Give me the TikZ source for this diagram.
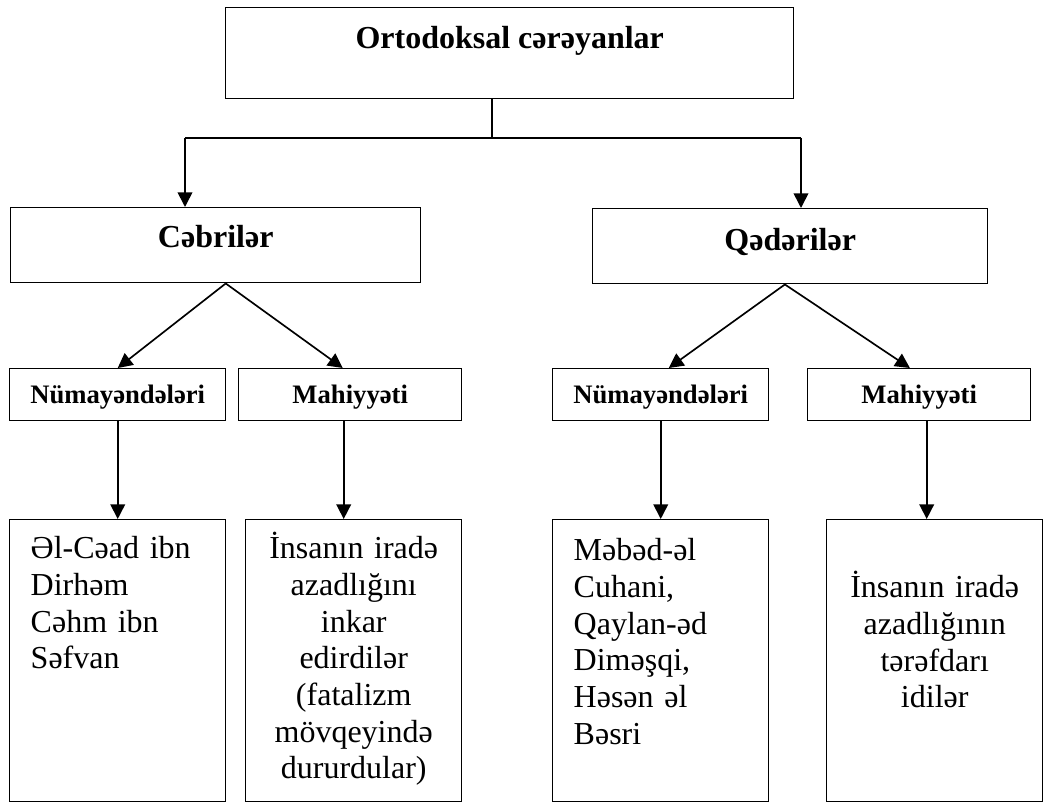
\documentclass[tikz,border=0pt]{standalone}
\usepackage{fontspec}
\setmainfont{Liberation Serif}
\usetikzlibrary{arrows.meta}

\begin{document}
\begin{tikzpicture}[
    x=0.75pt, y=-0.75pt,
    >={Triangle[length=11pt, width=11pt]},
    box/.style={draw, line width=1.1pt, rectangle, inner sep=0pt, anchor=north west},
    headbox/.style={box, font=\fontsize{24}{28}\selectfont\bfseries},
    subbox/.style={box, font=\fontsize{20}{24}\selectfont\bfseries,
        text height=26.25pt, text depth=12.75pt},
    textbox/.style={box, font=\fontsize{24}{27.5}\selectfont,
        inner xsep=15.75pt, text width=130.5pt},
    midbox/.style={textbox, inner xsep=6pt, text width=150pt, align=center},
    link/.style={->, line width=1.25pt},
]
\useasboundingbox (0,0) rectangle (1043,802);
% top level
\node[headbox, minimum width=426pt, text height=30.75pt, text depth=37.5pt]
      (top) at (225,7) {Ortodoksal cərəyanlar};
% the two currents
\node[headbox, minimum width=307.5pt, text height=30pt, text depth=26.25pt]
      (cb) at (10,207) {Cəbrilər};
\node[headbox, minimum width=296.25pt, text height=31.5pt, text depth=24.75pt]
      (qd) at (592,208) {Qədərilər};
% sub headings
\node[subbox, minimum width=162pt]    (n1) at (9,368)   {Nümayəndələri};
\node[subbox, minimum width=167.25pt] (m1) at (238,368) {Mahiyyəti};
\node[subbox, minimum width=162pt]    (n2) at (552,368) {Nümayəndələri};
\node[subbox, minimum width=167.25pt] (m2) at (807,368) {Mahiyyəti};
% contents
\node[textbox, align=left, text height=29.25pt, text depth=182.25pt]
      (a1) at (9,519) {Əl-Cəad ibn\\ Dirhəm\\ Cəhm ibn\\ Səfvan};
\node[midbox, text height=29.25pt, text depth=182.25pt]
      (a2) at (245,519) {İnsanın iradə\\ azadlığını\\ inkar\\ edirdilər\\ (fatalizm\\ mövqeyində\\ dururdular)};
\node[textbox, align=left, text height=30.75pt, text depth=180.75pt]
      (a3) at (552,519) {Məbəd-əl\\ Cuhani,\\ Qaylan-əd\\ Diməşqi,\\ Həsən əl\\ Bəsri};
\node[midbox, text height=58.5pt, text depth=153pt]
      (a4) at (826,519) {İnsanın iradə\\ azadlığının\\ tərəfdarı\\ idilər};
% split from the top box
\coordinate (split) at (492,138);
\coordinate (jl) at (185,138);
\coordinate (jr) at (801,138);
\draw[line width=0.8pt] (top.south -| split) -- (split);
\draw[line width=1pt] (jl) -- (jr);
\draw[link] (jl) -- (jl |- cb.north);
\draw[link] (jr) -- (jr |- qd.north);
% fan out
\draw[link] ([xshift=7.5pt]cb.south) -- (n1.north);
\draw[link] ([xshift=7.5pt]cb.south) -- ([xshift=-5.6pt]m1.north);
\draw[link] ([xshift=-4pt]qd.south) -- ([xshift=6pt]n2.north);
\draw[link] ([xshift=-4pt]qd.south) -- ([xshift=-7pt]m2.north);
% down to the contents
\draw[link] (n1.south) -- (a1.north);
\draw[link] ([xshift=-4.9pt]m1.south) -- ([xshift=-4.9pt]m1.south |- a2.north);
\draw[link] (n2.south) -- (a3.north);
\draw[link] ([xshift=5.6pt]m2.south) -- ([xshift=5.6pt]m2.south |- a4.north);
\end{tikzpicture}
\end{document}
